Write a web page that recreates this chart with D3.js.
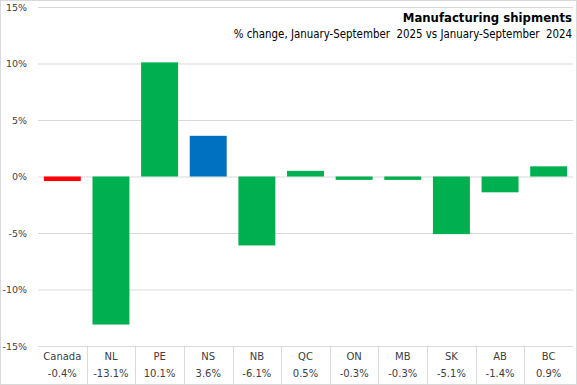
<!DOCTYPE html>
<html>
<head>
<meta charset="utf-8">
<script src="https://cdn.jsdelivr.net/npm/d3@7"></script>
<style>
  body { margin: 0; background: #fff; }
  svg { display: block; }
</style>
</head>
<body>
<svg id="chart" width="577" height="385"></svg>
<script>
(function(){
    var categories = ['Canada','NL','PE','NS','NB','QC','ON','MB','SK','AB','BC'];
    var values = [-0.4, -13.1, 10.1, 3.6, -6.1, 0.5, -0.3, -0.3, -5.1, -1.4, 0.9];
    var barColors = ['#ff0000','#00b050','#00b050','#0070c0','#00b050','#00b050','#00b050','#00b050','#00b050','#00b050','#00b050'];
    var yTicks = [-15, -10, -5, 0, 5, 10, 15];

    var title = 'Manufacturing shipments';
    var subtitle = '% change, January-September\u00a0 2025 vs January-September\u00a0 2024';

    var W = 577, H = 385;
    var left = 38, right = 573, top = 7, bottom = 346;
    var grid = '#d9d9d9',
        txt = '#404040';
    var uiFont = 'DejaVu Sans, Verdana, sans-serif';
    var narrowFont = '"Liberation Sans Narrow", "DejaVu Sans Condensed", "Arial Narrow", sans-serif';

    var svg = d3.select('#chart');

    // chart border
    svg.append('rect')
        .attr('x', 0.5).attr('y', 0.5)
        .attr('width', W - 1).attr('height', H - 1)
        .style('fill', '#fff')
        .style('stroke', grid);

    var x = d3.scaleBand()
        .domain(categories)
        .range([left, right])
        .paddingInner(0.24)
        .paddingOuter(0.12);

    var y = d3.scaleLinear()
        .domain([-15, 15])
        .range([bottom, top]);

    var yAxis = d3.axisLeft(y)
        .tickValues(yTicks)
        .tickSize(-(right - left))
        .tickFormat(function(d){ return d + '%' });

    var ga = svg.append('g')
        .attr('transform', 'translate(' + left + ',0)')
        .call(yAxis);
    ga.select('.domain').remove();
    ga.selectAll('.tick line').style('stroke', grid).style('stroke-width', 1);
    ga.selectAll('.tick text')
        .attr('x', -11)
        .style('font-family', uiFont)
        .style('font-size', '9.5px')
        .style('fill', txt);

    // bars
    svg.append('g').selectAll('rect')
        .data(values)
        .enter().append('rect')
        .attr('x', function(d, i){ return x(categories[i]) })
        .attr('width', x.bandwidth())
        .attr('y', function(d){ return y(Math.max(0, d)) })
        .attr('height', function(d){ return Math.abs(y(d) - y(0)) })
        .style('fill', function(d, i){ return barColors[i] });

    // data table under the axis, dividers between the cells
    var gap = (x.step() - x.bandwidth()) / 2;
    var table = svg.append('g');
    table.selectAll('line')
        .data(categories.slice(1))
        .enter().append('line')
        .attr('x1', function(d){ return Math.round(x(d) - gap) + 0.5 })
        .attr('x2', function(d){ return Math.round(x(d) - gap) + 0.5 })
        .attr('y1', bottom)
        .attr('y2', H)
        .style('stroke', grid);

    table.selectAll('text.cat')
        .data(categories)
        .enter().append('text')
        .attr('class', 'cat')
        .attr('x', function(d){ return x(d) + x.bandwidth() / 2 })
        .attr('y', 360)
        .attr('text-anchor', 'middle')
        .style('font-family', uiFont)
        .style('font-size', '10px')
        .style('fill', txt)
        .text(function(d){ return d });

    table.selectAll('text.val')
        .data(values)
        .enter().append('text')
        .attr('class', 'val')
        .attr('x', function(d, i){ return x(categories[i]) + x.bandwidth() / 2 })
        .attr('y', 377)
        .attr('text-anchor', 'middle')
        .style('font-family', uiFont)
        .style('font-size', '10px')
        .style('fill', txt)
        .text(function(d){ return d.toFixed(1) + '%' });

    // titles
    svg.append('text')
        .attr('x', 572).attr('y', 22)
        .attr('text-anchor', 'end')
        .style('font-family', narrowFont)
        .style('font-weight', 'bold')
        .style('font-size', '13px')
        .style('fill', '#000')
        .text(title);

    svg.append('text')
        .attr('x', 572).attr('y', 38)
        .attr('text-anchor', 'end')
        .style('font-family', narrowFont)
        .style('font-size', '11.4px')
        .style('fill', '#000')
        .text(subtitle);
})();
</script>
</body>
</html>
